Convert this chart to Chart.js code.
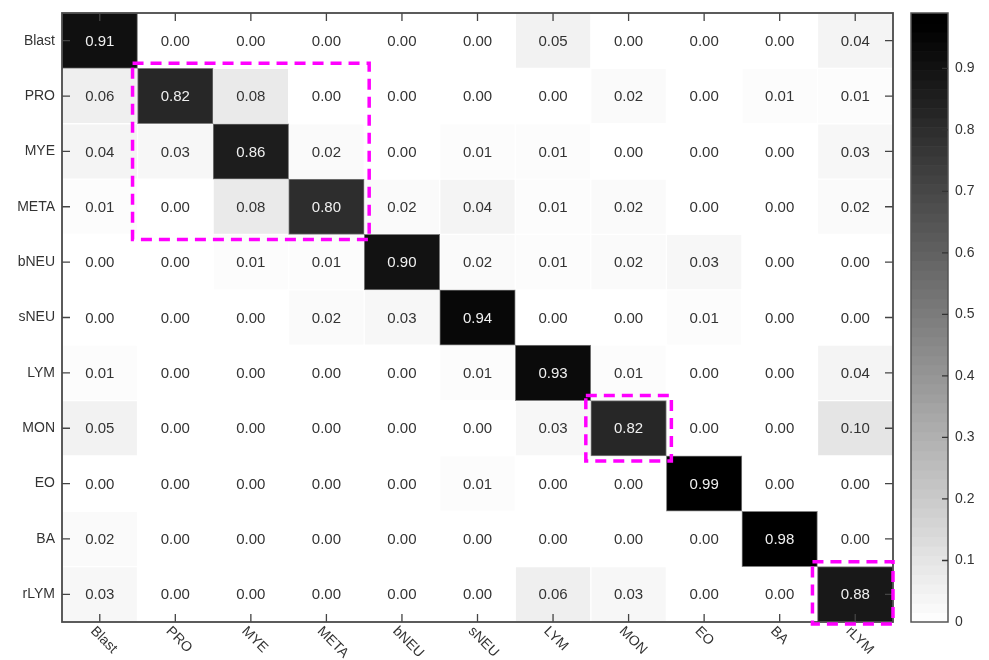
<!DOCTYPE html>
<html>
<head>
<meta charset="utf-8">
<title>Confusion matrix</title>
<script src="https://cdn.jsdelivr.net/npm/chart.js@4.4.0/dist/chart.umd.min.js"></script>
<style>
  html, body { margin: 0; padding: 0; background: #fff; }
</style>
</head>
<body>
<canvas id="myChart" width="989" height="660"></canvas>
<script>
// class names (rows = true class, columns = predicted class)
const classes = ["Blast", "PRO", "MYE", "META", "bNEU", "sNEU", "LYM", "MON", "EO", "BA", "rLYM"];

const rowBlast = [0.91, 0.00, 0.00, 0.00, 0.00, 0.00, 0.05, 0.00, 0.00, 0.00, 0.04];
const rowPRO   = [0.06, 0.82, 0.08, 0.00, 0.00, 0.00, 0.00, 0.02, 0.00, 0.01, 0.01];
const rowMYE   = [0.04, 0.03, 0.86, 0.02, 0.00, 0.01, 0.01, 0.00, 0.00, 0.00, 0.03];
const rowMETA  = [0.01, 0.00, 0.08, 0.80, 0.02, 0.04, 0.01, 0.02, 0.00, 0.00, 0.02];
const rowBNEU  = [0.00, 0.00, 0.01, 0.01, 0.90, 0.02, 0.01, 0.02, 0.03, 0.00, 0.00];
const rowSNEU  = [0.00, 0.00, 0.00, 0.02, 0.03, 0.94, 0.00, 0.00, 0.01, 0.00, 0.00];
const rowLYM   = [0.01, 0.00, 0.00, 0.00, 0.00, 0.01, 0.93, 0.01, 0.00, 0.00, 0.04];
const rowMON   = [0.05, 0.00, 0.00, 0.00, 0.00, 0.00, 0.03, 0.82, 0.00, 0.00, 0.10];
const rowEO    = [0.00, 0.00, 0.00, 0.00, 0.00, 0.01, 0.00, 0.00, 0.99, 0.00, 0.00];
const rowBA    = [0.02, 0.00, 0.00, 0.00, 0.00, 0.00, 0.00, 0.00, 0.00, 0.98, 0.00];
const rowRLYM  = [0.03, 0.00, 0.00, 0.00, 0.00, 0.00, 0.06, 0.03, 0.00, 0.00, 0.88];

const matrix = [rowBlast, rowPRO, rowMYE, rowMETA, rowBNEU, rowSNEU, rowLYM, rowMON, rowEO, rowBA, rowRLYM];

const colorbarTicks = [0, 0.1, 0.2, 0.3, 0.4, 0.5, 0.6, 0.7, 0.8, 0.9];
const colorbarMax = 0.99;

// diagonal blocks boxed with the dashed magenta line: [first class, last class]
const highlightBlocks = [[1, 3], [7, 7], [10, 10]];

Chart.defaults.font.family = "'Liberation Sans', Arial, sans-serif";
Chart.defaults.font.size = 14;
Chart.defaults.color = "#333";

function grayLevel(v) {
  return Math.round(255 * (1 - Math.min(v / 0.97, 1)));
}
function grayFor(v) {
  const g = grayLevel(v);
  return `rgb(${g},${g},${g})`;
}

const datasets = matrix.map((row, r) => ({
  label: classes[r],
  data: row.map(() => [r - 0.5, r + 0.5]),
  backgroundColor: row.map(grayFor),
  borderColor: row.map((v) => (v > 0.5 ? "#808080" : "rgba(0,0,0,0)")),
  borderWidth: 1,
  borderSkipped: false,
  barPercentage: 1,
  categoryPercentage: 1,
  grouped: false,
  xAxisID: "x",
  yAxisID: "y",
}));

const heatDecor = {
  id: "heatDecor",
  afterDatasetsDraw(chart) {
    const ctx = chart.ctx;
    const area = chart.chartArea;
    const xs = chart.scales.x;
    const ys = chart.scales.y;
    const cb = chart.scales.cb;
    const halfW = (xs.getPixelForValue(1) - xs.getPixelForValue(0)) / 2;

    ctx.save();

    // cell values
    ctx.font = "15px 'Liberation Sans', Arial, sans-serif";
    ctx.textAlign = "center";
    ctx.textBaseline = "middle";
    matrix.forEach((row, r) => {
      row.forEach((v, c) => {
        ctx.fillStyle = v > 0.5 ? "#f0f0f0" : "#333";
        ctx.fillText(v.toFixed(2), xs.getPixelForValue(c), ys.getPixelForValue(r) + 1);
      });
    });

    // inward ticks on all four sides
    ctx.strokeStyle = "#444";
    ctx.lineWidth = 1.3;
    ctx.beginPath();
    classes.forEach((name, i) => {
      const x = xs.getPixelForValue(i);
      const y = ys.getPixelForValue(i);
      ctx.moveTo(x, area.top); ctx.lineTo(x, area.top + 8);
      ctx.moveTo(x, area.bottom); ctx.lineTo(x, area.bottom - 8);
      ctx.moveTo(area.left, y); ctx.lineTo(area.left + 8, y);
      ctx.moveTo(area.right, y); ctx.lineTo(area.right - 8, y);
    });
    ctx.stroke();

    // frame
    ctx.strokeStyle = "#4a4a4a";
    ctx.lineWidth = 1.8;
    ctx.strokeRect(area.left, area.top, area.right - area.left, area.bottom - area.top);

    // dashed highlight boxes
    ctx.strokeStyle = "#ff00ff";
    ctx.lineWidth = 3.5;
    ctx.setLineDash([11, 7]);
    highlightBlocks.forEach(([s, e]) => {
      const pad = 5;
      const l = xs.getPixelForValue(s) - halfW - pad;
      const rgt = Math.min(xs.getPixelForValue(e) + halfW + pad, area.right);
      const t = ys.getPixelForValue(s - 0.5) - pad;
      const b = Math.min(ys.getPixelForValue(e + 0.5) + pad, area.bottom + 2);
      ctx.strokeRect(l, t, rgt - l, b - t);
    });
    ctx.setLineDash([]);

    // colour bar
    const cbLeft = cb.left + 18;
    const cbRight = cb.left + 55;
    const bands = 64;
    for (let i = 0; i < bands; i++) {
      const v0 = (i * colorbarMax) / bands;
      const v1 = ((i + 1) * colorbarMax) / bands;
      const yTop = cb.getPixelForValue(v1);
      const yBot = cb.getPixelForValue(v0);
      ctx.fillStyle = grayFor((v0 + v1) / 2);
      ctx.fillRect(cbLeft, yTop, cbRight - cbLeft, yBot - yTop + 0.6);
    }
    ctx.strokeStyle = "#555";
    ctx.lineWidth = 1.5;
    const cbTop = cb.getPixelForValue(colorbarMax);
    const cbBot = cb.getPixelForValue(0);
    ctx.strokeRect(cbLeft, cbTop, cbRight - cbLeft, cbBot - cbTop);
    ctx.strokeStyle = "#333";
    ctx.lineWidth = 1.3;
    ctx.beginPath();
    colorbarTicks.forEach((v) => {
      if (v === 0) return;
      const y = cb.getPixelForValue(v);
      ctx.moveTo(cbRight - 6, y);
      ctx.lineTo(cbRight, y);
    });
    ctx.stroke();

    // rotated column labels
    ctx.fillStyle = "#333";
    ctx.font = "14px 'Liberation Sans', Arial, sans-serif";
    ctx.textAlign = "left";
    ctx.textBaseline = "middle";
    classes.forEach((name, i) => {
      ctx.save();
      ctx.translate(xs.getPixelForValue(i) - 7, area.bottom + 7);
      ctx.rotate(Math.PI / 4);
      ctx.fillText(name, 0, 0);
      ctx.restore();
    });

    ctx.restore();
  },
};

let ctx = document.getElementById("myChart");
let myChart = new Chart(ctx, {
  type: "bar",
  data: {
    labels: classes,
    datasets: datasets,
  },
  options: {
    responsive: false,
    animation: false,
    layout: { autoPadding: false, padding: { top: 13, left: 0, right: 0, bottom: 0 } },
    plugins: {
      legend: { display: false },
      tooltip: { enabled: false },
    },
    scales: {
      x: {
        type: "category",
        position: "bottom",
        offset: true,
        grid: { display: false, drawTicks: false },
        border: { display: false },
        ticks: { display: false },
        afterFit: (s) => {
          s.height = 38;
          s.paddingLeft = 0;
          s.paddingRight = 0;
        },
      },
      y: {
        type: "linear",
        position: "left",
        reverse: true,
        min: -0.5,
        max: classes.length - 0.5,
        grid: { display: false, drawTicks: false },
        border: { display: false },
        afterBuildTicks: (s) => { s.ticks = classes.map((_, i) => ({ value: i })); },
        ticks: { padding: 7, color: "#333", callback: (v) => classes[v] },
        afterFit: (s) => {
          s.width = 62;
          s.paddingTop = 0;
          s.paddingBottom = 0;
        },
      },
      cb: {
        type: "linear",
        position: "right",
        min: 0,
        max: colorbarMax,
        grid: { display: false, drawTicks: false },
        border: { display: false },
        afterBuildTicks: (s) => { s.ticks = colorbarTicks.map((v) => ({ value: v })); },
        ticks: { padding: 62, color: "#333", callback: (v) => String(v) },
        afterFit: (s) => {
          s.width = 96;
          s.paddingTop = 0;
          s.paddingBottom = 0;
        },
      },
    },
  },
  plugins: [heatDecor],
});
</script>
</body>
</html>
